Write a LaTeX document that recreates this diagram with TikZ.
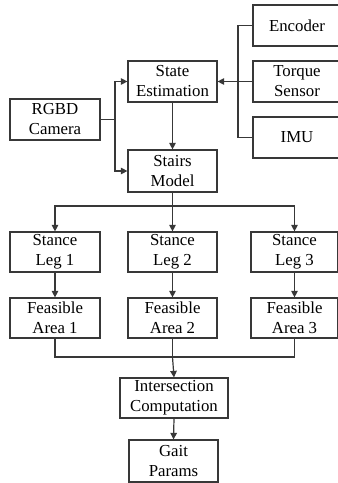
\documentclass[tikz,border=0pt]{standalone}
\usepackage{fontspec}
\setmainfont{Liberation Serif}
\usetikzlibrary{arrows.meta}
\definecolor{linec}{gray}{0.22}
\begin{document}
\begin{tikzpicture}[x=1pt,y=-1pt,
  box/.style={draw=linec, line width=1.2pt, rectangle, inner sep=0pt, align=center,
    font=\fontsize{16.8}{20}\selectfont, minimum height=41pt},
  conn/.style={draw=linec, line width=1.2pt},
  arr/.style={conn, -{Triangle[length=6.5pt,width=6.5pt]}}]
\useasboundingbox (0,0) rectangle (338,483);
\node[box, minimum width=88pt] (enc) at (297,25.5) {Encoder};
\node[box, minimum width=88pt] (torque) at (297,81.5) {Torque\\Sensor};
\node[box, minimum width=88pt] (imu) at (297,137.5) {IMU};
\node[box, minimum width=89pt] (se) at (172.5,81.5) {State\\Estimation};
\node[box, minimum width=89pt, minimum height=42pt] (sm) at (172.5,171) {Stairs\\Model};
\node[box, minimum width=90pt] (cam) at (55,119.5) {RGBD\\Camera};
\node[box, minimum width=90pt, minimum height=40pt] (leg1) at (55,252) {Stance\\Leg 1};
\node[box, minimum width=89pt, minimum height=40pt] (leg2) at (172.5,252) {Stance\\Leg 2};
\node[box, minimum width=87pt, minimum height=40pt] (leg3) at (294.5,252) {Stance\\Leg 3};
\node[box, minimum width=90pt, minimum height=40pt] (fa1) at (55,318) {Feasible\\Area 1};
\node[box, minimum width=89pt, minimum height=40pt] (fa2) at (172.5,318) {Feasible\\Area 2};
\node[box, minimum width=87pt, minimum height=40pt] (fa3) at (294.5,318) {Feasible\\Area 3};
\node[box, minimum width=108pt, minimum height=40pt] (inter) at (174,398) {Intersection\\Computation};
\node[box, minimum width=89pt, minimum height=42pt] (gait) at (173.5,461) {Gait\\Params};
\coordinate (sb) at (238,81.5);
\coordinate (cb) at (115,119.5);
\coordinate (split) at (172.5,206);
\coordinate (merge) at (172.5,357);
\draw[conn] (enc.west) -| (sb) |- (imu.west);
\draw[arr] (torque.west) -- (se.east);
\draw[conn] (cam.east) -- (cb);
\draw[arr] (cb) |- (se.west);
\draw[arr] (cb) |- (sm.west);
\draw[arr] (se.south) -- (sm.north);
\draw[conn] (sm.south) -- (split);
\draw[arr] (split) -| (leg1.north);
\draw[arr] (split) -- (leg2.north);
\draw[arr] (split) -| (leg3.north);
\draw[arr] (leg1.south) -- (fa1.north);
\draw[arr] (leg2.south) -- (fa2.north);
\draw[arr] (leg3.south) -- (fa3.north);
\draw[conn] (fa1.south) |- (merge);
\draw[conn] (fa3.south) |- (merge);
\draw[conn] (fa2.south) -- (merge);
\draw[arr] (merge) -- (inter.north);
\draw[arr] (inter.south) -- (gait.north);
\end{tikzpicture}
\end{document}
